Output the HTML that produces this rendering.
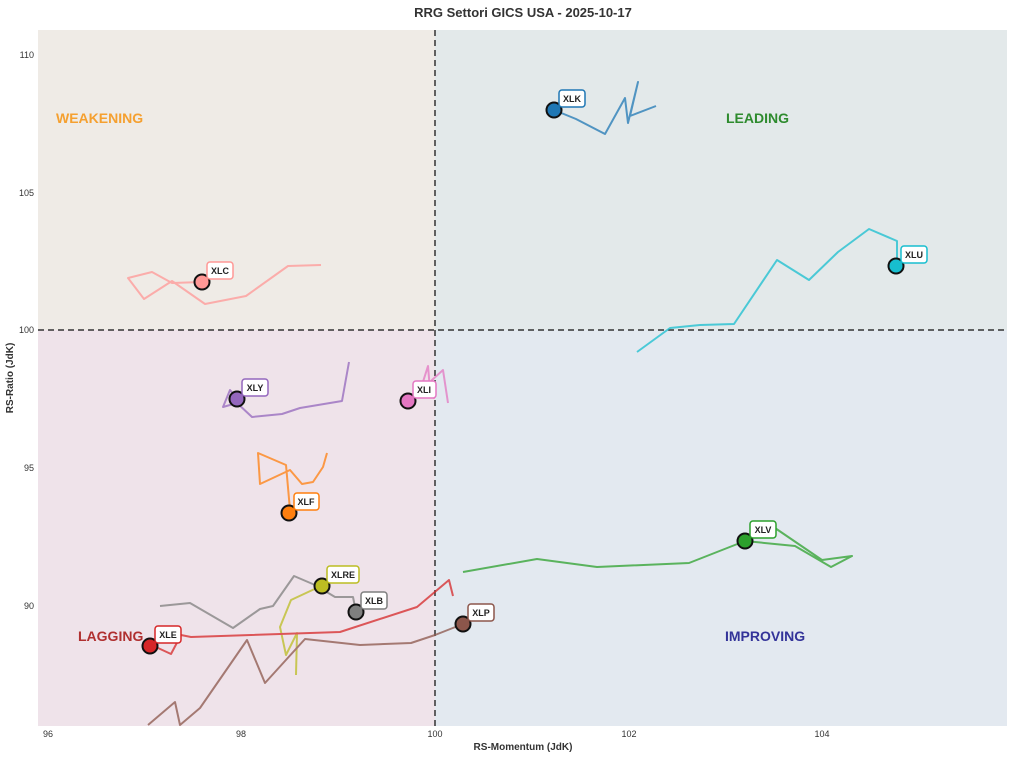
<!DOCTYPE html>
<html><head><meta charset="utf-8"><style>body{margin:0;background:#fff}svg{display:block;font-family:"Liberation Sans",sans-serif}</style></head><body>
<svg width="1014" height="758" viewBox="0 0 1014 758" xmlns="http://www.w3.org/2000/svg">
<rect width="1014" height="758" fill="#fff"/>
<text x="523" y="17" text-anchor="middle" font-size="13" font-weight="bold" fill="#333">RRG Settori GICS USA - 2025-10-17</text>
<rect x="38" y="30" width="397" height="300" fill="#efebe6"/>
<rect x="435" y="30" width="572" height="300" fill="#e3e9ea"/>
<rect x="38" y="330" width="397" height="396" fill="#efe3ea"/>
<rect x="435" y="330" width="572" height="396" fill="#e3e9f0"/>
<line x1="435" y1="30" x2="435" y2="726" stroke="#333" stroke-width="1.5" stroke-dasharray="6,4"/>
<line x1="38" y1="330" x2="1007" y2="330" stroke="#333" stroke-width="1.5" stroke-dasharray="6,4"/>
<g font-size="14" font-weight="bold">
<text x="56" y="123" fill="#f5a030">WEAKENING</text>
<text x="726" y="123" fill="#2e8b2e">LEADING</text>
<text x="78" y="641" fill="#b03030">LAGGING</text>
<text x="725" y="641" fill="#333399">IMPROVING</text>
</g>
<g font-size="9" fill="#333" text-anchor="middle">
<text x="48" y="737">96</text><text x="241" y="737">98</text><text x="435" y="737">100</text><text x="629" y="737">102</text><text x="822" y="737">104</text>
</g>
<g font-size="9" fill="#333" text-anchor="end">
<text x="34" y="58">110</text><text x="34" y="196">105</text><text x="34" y="333">100</text><text x="34" y="471">95</text><text x="34" y="609">90</text>
</g>
<text x="523" y="750" text-anchor="middle" font-size="10" font-weight="bold" fill="#333">RS-Momentum (JdK)</text>
<text transform="translate(13,378) rotate(-90)" text-anchor="middle" font-size="10" font-weight="bold" fill="#333">RS-Ratio (JdK)</text>
<g fill="none" stroke-width="2" stroke-linejoin="round" opacity="0.75">
<polyline stroke="#1f77b4" points="656,106 630,116 638,82 628,123 625,98 605,134 576,119 554,110"/>
<polyline stroke="#17becf" points="637,352 670,328 700,325 734,324 777,260 809,280 838,252 869,229 897,241 897,266"/>
<polyline stroke="#ff9896" points="321,265 288,266 246,296 205,304 172,281 144,299 128,278 152,272 172,283 202,282"/>
<polyline stroke="#9467bd" points="349,362 342,401 300,408 282,414 252,417 237,403 223,407 230,390 237,399"/>
<polyline stroke="#e377c2" points="448,403 443,370 432,380 434,398 430,390 428,366 422,385 408,401"/>
<polyline stroke="#ff7f0e" points="327,453 323,467 313,482 302,484 290,470 260,484 258,453 286,465 290,510 289,513"/>
<polyline stroke="#7f7f7f" points="160,606 190,603 233,628 260,609 273,606 294,576 315,585 335,597 353,597 356,612"/>
<polyline stroke="#bcbd22" points="296,675 297,633 286,655 280,627 291,600 321,586"/>
<polyline stroke="#d62728" points="453,596 449,580 417,607 340,632 191,637 181,635 171,654 158,648 150,646"/>
<polyline stroke="#8c564b" points="148,725 175,702 180,725 200,708 247,640 265,683 305,639 360,645 411,643 435,635 463,624"/>
<polyline stroke="#2ca02c" points="463,572 537,559 597,567 689,563 745,541 795,546 831,567 852,556 822,560 775,528 745,541"/>
</g>
<g stroke="#111" stroke-width="2">
<circle cx="554" cy="110" r="7.5" fill="#1f77b4"/>
<circle cx="896" cy="266" r="7.5" fill="#17becf"/>
<circle cx="202" cy="282" r="7.5" fill="#ff9896"/>
<circle cx="237" cy="399" r="7.5" fill="#9467bd"/>
<circle cx="408" cy="401" r="7.5" fill="#e377c2"/>
<circle cx="289" cy="513" r="7.5" fill="#ff7f0e"/>
<circle cx="322" cy="586" r="7.5" fill="#bcbd22"/>
<circle cx="356" cy="612" r="7.5" fill="#7f7f7f"/>
<circle cx="150" cy="646" r="7.5" fill="#d62728"/>
<circle cx="463" cy="624" r="7.5" fill="#8c564b"/>
<circle cx="745" cy="541" r="7.5" fill="#2ca02c"/>
</g>
<g font-size="9" font-weight="bold" fill="#222" text-anchor="middle">
<rect x="559" y="90" width="26" height="17" rx="3" fill="#fff" stroke="#1f77b4" stroke-width="1.5"/><text x="572" y="102">XLK</text>
<rect x="901" y="246" width="26" height="17" rx="3" fill="#fff" stroke="#17becf" stroke-width="1.5"/><text x="914" y="258">XLU</text>
<rect x="207" y="262" width="26" height="17" rx="3" fill="#fff" stroke="#ff9896" stroke-width="1.5"/><text x="220" y="274">XLC</text>
<rect x="242" y="379" width="26" height="17" rx="3" fill="#fff" stroke="#9467bd" stroke-width="1.5"/><text x="255" y="391">XLY</text>
<rect x="413" y="381" width="23" height="17" rx="3" fill="#fff" stroke="#e377c2" stroke-width="1.5"/><text x="424" y="393">XLI</text>
<rect x="294" y="493" width="25" height="17" rx="3" fill="#fff" stroke="#ff7f0e" stroke-width="1.5"/><text x="306" y="505">XLF</text>
<rect x="327" y="566" width="32" height="17" rx="3" fill="#fff" stroke="#bcbd22" stroke-width="1.5"/><text x="343" y="578">XLRE</text>
<rect x="361" y="592" width="26" height="17" rx="3" fill="#fff" stroke="#7f7f7f" stroke-width="1.5"/><text x="374" y="604">XLB</text>
<rect x="155" y="626" width="26" height="17" rx="3" fill="#fff" stroke="#d62728" stroke-width="1.5"/><text x="168" y="638">XLE</text>
<rect x="468" y="604" width="26" height="17" rx="3" fill="#fff" stroke="#8c564b" stroke-width="1.5"/><text x="481" y="616">XLP</text>
<rect x="750" y="521" width="26" height="17" rx="3" fill="#fff" stroke="#2ca02c" stroke-width="1.5"/><text x="763" y="533">XLV</text>
</g>
</svg>
</body></html>
